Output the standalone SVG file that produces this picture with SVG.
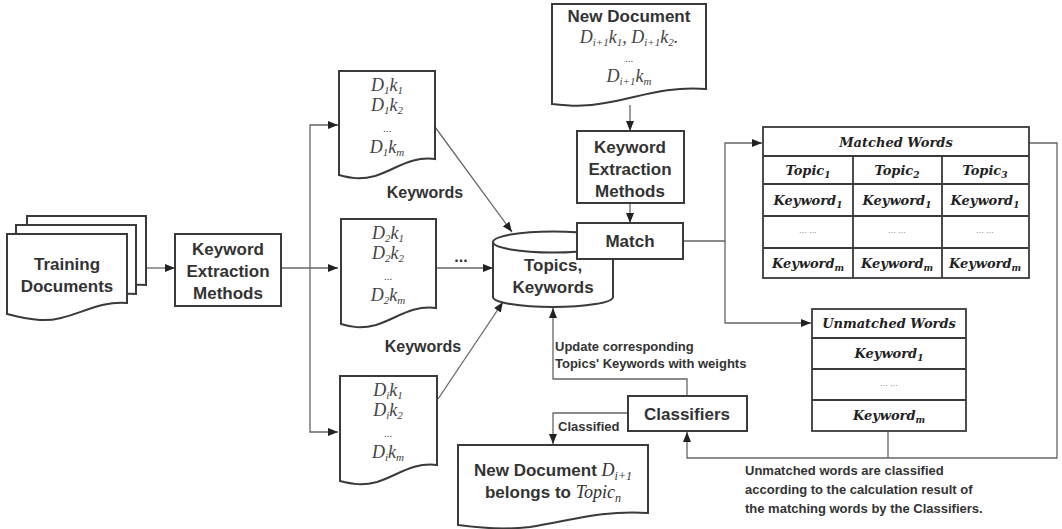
<svg xmlns="http://www.w3.org/2000/svg" width="1062" height="529" viewBox="0 0 1062 529">
<style>
.box{fill:#fff;stroke:#3a3a3a;stroke-width:2}
.tb{fill:#fff;stroke:#3a3a3a;stroke-width:1.8}
.conn{fill:none;stroke:#666;stroke-width:1.3}
.lbl{font-family:"Liberation Sans",Arial,sans-serif;font-weight:bold;fill:#333;text-anchor:middle}
.note{font-family:"Liberation Sans",Arial,sans-serif;font-weight:bold;fill:#333;font-size:13px}
.m{font-family:"Liberation Serif","Times New Roman",serif;font-style:italic;fill:#444;font-size:18px;text-anchor:middle}
.s{font-size:11px}
.el{font-family:"Liberation Serif","Times New Roman",serif;fill:#444;font-size:11px;text-anchor:middle}
.t{font-family:"DejaVu Serif",serif;font-style:italic;font-weight:bold;fill:#222;font-size:13px;text-anchor:middle}
.ts{font-size:9px}
.dots{font-family:"DejaVu Serif",serif;fill:#666;font-size:8px;text-anchor:middle}
</style>
<defs>
<marker id="ah" markerUnits="userSpaceOnUse" markerWidth="10" markerHeight="8" refX="10" refY="4" orient="auto">
<path d="M0,0 L10,4 L0,8 z" fill="#222"/>
</marker>
</defs>

<g id="connectors">
<path class="conn" d="M146,268 H175" marker-end="url(#ah)"/>
<path class="conn" d="M281,268 H338" marker-end="url(#ah)"/>
<path class="conn" d="M310,268 V125 H338" marker-end="url(#ah)"/>
<path class="conn" d="M310,268 V432 H338" marker-end="url(#ah)"/>
<path class="conn" d="M435,127 L512,232" marker-end="url(#ah)"/>
<path class="conn" d="M436,268 H493" marker-end="url(#ah)"/>
<path class="conn" d="M438,399 L503,302" marker-end="url(#ah)"/>
<path class="conn" d="M630,105 V131" marker-end="url(#ah)"/>
<path class="conn" d="M630,203 V223" marker-end="url(#ah)"/>
<path class="conn" d="M683,241 H725 V143 H762" marker-end="url(#ah)"/>
<path class="conn" d="M725,241 V323 H811" marker-end="url(#ah)"/>
<path class="conn" d="M1029,143 H1057 V458 H687 V432" marker-end="url(#ah)"/>
<path class="conn" d="M888,431 V458"/>
<path class="conn" d="M687,396 V379 H553 V308" marker-end="url(#ah)"/>
<path class="conn" d="M628,413 H553 V444" marker-end="url(#ah)"/>
</g>

<g id="training">
<path class="box" d="M27,216 H146 V285 C120,282 80,300 27,300 Z"/>
<path class="box" d="M16,225 H136 V294 C105,292 70,310 16,308 Z"/>
<path class="box" d="M7,234 H127 V303 C95,300 70,322 40,320 C25,319 15,316 7,314 Z"/>
<text class="lbl" font-size="17" x="67" y="270">Training</text>
<text class="lbl" font-size="17" x="67" y="292">Documents</text>
</g>

<g id="kem1">
<rect class="box" x="175" y="234" width="106" height="72"/>
<text class="lbl" font-size="17" x="228" y="255">Keyword</text>
<text class="lbl" font-size="17" x="228" y="277">Extraction</text>
<text class="lbl" font-size="17" x="228" y="299">Methods</text>
</g>

<g id="doc1">
<path class="box" d="M339,71 H435 V159 C410,156 395,170 375,176 C360,180 350,178 339,175 Z"/>
<text class="m" x="387" y="91">D<tspan class="s" dy="3">1</tspan><tspan dy="-3">k</tspan><tspan class="s" dy="3">1</tspan></text>
<text class="m" x="387" y="111">D<tspan class="s" dy="3">1</tspan><tspan dy="-3">k</tspan><tspan class="s" dy="3">2</tspan></text>
<text class="el" x="387" y="132">...</text>
<text class="m" x="387" y="153">D<tspan class="s" dy="3">1</tspan><tspan dy="-3">k</tspan><tspan class="s" dy="3">m</tspan></text>
</g>
<text class="lbl" font-size="16" x="425" y="198">Keywords</text>

<g id="doc2">
<path class="box" d="M341,219 H436 V308 C411,305 396,319 376,325 C361,329 351,327 341,324 Z"/>
<text class="m" x="388" y="239">D<tspan class="s" dy="3">2</tspan><tspan dy="-3">k</tspan><tspan class="s" dy="3">1</tspan></text>
<text class="m" x="388" y="259">D<tspan class="s" dy="3">2</tspan><tspan dy="-3">k</tspan><tspan class="s" dy="3">2</tspan></text>
<text class="el" x="388" y="280">...</text>
<text class="m" x="388" y="301">D<tspan class="s" dy="3">2</tspan><tspan dy="-3">k</tspan><tspan class="s" dy="3">m</tspan></text>
</g>
<text class="lbl" font-size="16" x="461" y="262">...</text>
<text class="lbl" font-size="16" x="423" y="352">Keywords</text>

<g id="doc3">
<path class="box" d="M340,376 H437 V465 C412,462 397,476 377,482 C362,486 352,484 340,481 Z"/>
<text class="m" x="388" y="396">D<tspan class="s" dy="3">i</tspan><tspan dy="-3">k</tspan><tspan class="s" dy="3">1</tspan></text>
<text class="m" x="388" y="416">D<tspan class="s" dy="3">i</tspan><tspan dy="-3">k</tspan><tspan class="s" dy="3">2</tspan></text>
<text class="el" x="388" y="437">...</text>
<text class="m" x="388" y="458">D<tspan class="s" dy="3">i</tspan><tspan dy="-3">k</tspan><tspan class="s" dy="3">m</tspan></text>
</g>

<g id="db">
<path class="box" d="M493,242 V297 A60,10 0 0 0 613,297 V242"/>
<ellipse class="box" cx="553" cy="242" rx="60" ry="10.5"/>
<text class="lbl" font-size="17" x="553" y="271">Topics,</text>
<text class="lbl" font-size="17" x="553" y="293">Keywords</text>
</g>

<g id="newdoc">
<path class="box" d="M552,4 H706 V89 C665,86 640,97 605,103 C585,107 570,106 552,104 Z"/>
<text class="lbl" font-size="17" x="629" y="22">New Document</text>
<text class="m" x="629" y="43">D<tspan class="s" dy="3">i+1</tspan><tspan dy="-3">k</tspan><tspan class="s" dy="3">1</tspan><tspan dy="-3">, D</tspan><tspan class="s" dy="3">i+1</tspan><tspan dy="-3">k</tspan><tspan class="s" dy="3">2</tspan><tspan dy="-3">.</tspan></text>
<text class="el" x="629" y="62">...</text>
<text class="m" x="629" y="82">D<tspan class="s" dy="3">i+1</tspan><tspan dy="-3">k</tspan><tspan class="s" dy="3">m</tspan></text>
</g>

<g id="kem2">
<rect class="box" x="577" y="131" width="107" height="72"/>
<text class="lbl" font-size="17" x="630" y="153">Keyword</text>
<text class="lbl" font-size="17" x="630" y="175">Extraction</text>
<text class="lbl" font-size="17" x="630" y="197">Methods</text>
</g>

<g id="match">
<rect class="box" x="577" y="223" width="106" height="36"/>
<text class="lbl" font-size="17" x="630" y="247">Match</text>
</g>

<g id="matched">
<rect class="tb" x="763" y="127" width="266" height="151"/>
<path class="tb" d="M763,156 H1029 M763,184 H1029 M763,216 H1029 M763,248 H1029 M853,156 V278 M942,156 V278"/>
<text class="t" x="896" y="147">Matched Words</text>
<text class="t" x="808" y="175">Topic<tspan class="ts" dy="3">1</tspan></text>
<text class="t" x="897" y="175">Topic<tspan class="ts" dy="3">2</tspan></text>
<text class="t" x="985" y="175">Topic<tspan class="ts" dy="3">3</tspan></text>
<text class="t" x="808" y="205">Keyword<tspan class="ts" dy="3">1</tspan></text>
<text class="t" x="897" y="205">Keyword<tspan class="ts" dy="3">1</tspan></text>
<text class="t" x="985" y="205">Keyword<tspan class="ts" dy="3">1</tspan></text>
<text class="dots" x="808" y="235">··· ···</text>
<text class="dots" x="897" y="235">··· ···</text>
<text class="dots" x="985" y="235">··· ···</text>
<text class="t" x="808" y="268">Keyword<tspan class="ts" dy="3">m</tspan></text>
<text class="t" x="897" y="268">Keyword<tspan class="ts" dy="3">m</tspan></text>
<text class="t" x="985" y="268">Keyword<tspan class="ts" dy="3">m</tspan></text>
</g>

<g id="unmatched">
<rect class="tb" x="812" y="309" width="154" height="122"/>
<path class="tb" d="M812,338 H966 M812,369 H966 M812,400 H966"/>
<text class="t" x="889" y="328">Unmatched Words</text>
<text class="t" x="889" y="358">Keyword<tspan class="ts" dy="3">1</tspan></text>
<text class="dots" x="889" y="388">··· ···</text>
<text class="t" x="889" y="420">Keyword<tspan class="ts" dy="3">m</tspan></text>
</g>

<g id="classifiers">
<rect class="box" x="628" y="396" width="119" height="35"/>
<text class="lbl" font-size="17" x="687" y="420">Classifiers</text>
</g>

<g id="result">
<path class="box" d="M458,445 H648 V513 C600,510 570,521 530,527 C505,530 480,528 458,525 Z"/>
<text class="lbl" font-size="17" x="553" y="476">New Document <tspan font-family="Liberation Serif,serif" font-style="italic" font-weight="normal" font-size="18">D</tspan><tspan font-family="Liberation Serif,serif" font-style="italic" font-weight="normal" font-size="12" dy="4">i+1</tspan></text>
<text class="lbl" font-size="17" x="553" y="498">belongs to <tspan font-family="Liberation Serif,serif" font-style="italic" font-weight="normal" font-size="18">Topic</tspan><tspan font-family="Liberation Serif,serif" font-style="italic" font-weight="normal" font-size="12" dy="4">n</tspan></text>
</g>

<g id="labels">
<text class="note" x="555" y="351">Update corresponding</text>
<text class="note" x="555" y="368">Topics' Keywords with weights</text>
<text class="note" x="558" y="431">Classified</text>
<text class="note" x="745" y="475">Unmatched words are classified</text>
<text class="note" x="745" y="494">according to the calculation result of</text>
<text class="note" x="745" y="513">the matching words by the Classifiers.</text>
</g>
</svg>
